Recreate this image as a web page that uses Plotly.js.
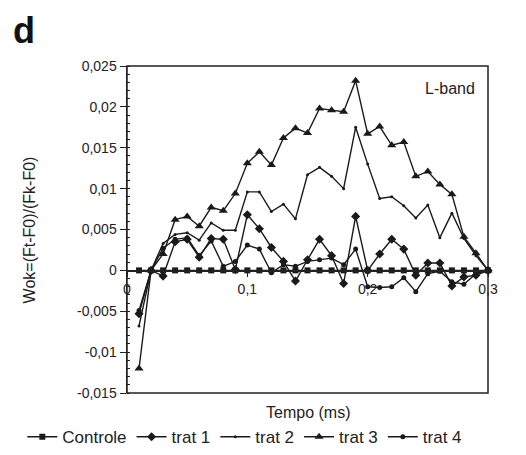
<!DOCTYPE html>
<html>
<head>
<meta charset="utf-8">
<script src="https://cdn.plot.ly/plotly-3.0.1.min.js"></script>
<style>html,body{margin:0;padding:0;background:#fff;}#chart{width:526px;height:455px;}</style>
</head>
<body>
<div id="chart"></div>
<script>
// time points (ms)
const tempo = [0.01,0.02,0.03,0.04,0.05,0.06,0.07,0.08,0.09,0.10,
               0.11,0.12,0.13,0.14,0.15,0.16,0.17,0.18,0.19,0.20,
               0.21,0.22,0.23,0.24,0.25,0.26,0.27,0.28,0.29,0.30];
const controle = [0,0,0,0,0,0,0,0,0,0, 0,0,0,0,0,0,0,0,0,0, 0,0,0,0,0,0,0,0,0,0];
const trat1 = [-0.0053,0,-0.0007,0.0035,0.0038,0.0016,0.0039,0.0038,0.0001,0.0068,
               0.0051,0.0028,0.0011,-0.0013,0.0013,0.0038,0.0018,-0.0016,0.0066,0.0,
               0.0020,0.0038,0.0026,-0.0006,0.0009,0.0009,-0.0019,-0.0008,-0.0006,0];
const trat2 = [-0.0068,0,0.0033,0.0044,0.0046,0.0037,0.0058,0.0049,0.0049,0.0096,
               0.0096,0.0072,0.0081,0.0063,0.0117,0.0126,0.0115,0.0100,0.0175,0.0130,
               0.0088,0.0090,0.0079,0.0064,0.0080,0.0040,0.0070,0.0039,0.0018,0];
const trat3 = [-0.0120,0,0.0020,0.0062,0.0066,0.0054,0.0077,0.0073,0.0094,0.0131,
               0.0145,0.0129,0.0162,0.0174,0.0168,0.0198,0.0196,0.0194,0.0232,0.0167,
               0.0176,0.0153,0.0157,0.0115,0.0121,0.0105,0.0093,0.0041,0.0021,0];
const trat4 = [-0.0049,0,0.0027,0.0038,0.0040,0.0018,0.0036,0.0005,0.0011,0.0031,
               0.0026,-0.0003,0.0007,0.0005,0.0011,0.0013,0.0015,0.0007,0.0026,-0.0020,
               -0.0021,-0.0020,-0.0009,-0.0026,-0.0004,-0.0001,-0.0014,-0.0017,-0.0004,0];
const seriesNames = ['Controle','trat 1','trat 2','trat 3','trat 4'];
const yTickVals = [-0.015,-0.01,-0.005,0,0.005,0.01,0.015,0.02,0.025];
const yTickText = ['-0,015','-0,01','-0,005','0','0,005','0,01','0,015','0,02','0,025'];
const xTickVals = [0,0.1,0.2,0.3];
const xTickText = ['0','0,1','0,2','0,3'];

const col = '#1a1a1a';
const data = [controle,trat1,trat2,trat3,trat4];
const symbols = ['square','diamond','circle','triangle-up','circle'];
const sizes = [6,7,3,8,5];
const traces = data.map((d,i)=>({
  x: tempo, y: d, name: seriesNames[i], type:'scatter', mode:'lines+markers',
  line:{color:col,width:1.4}, marker:{symbol:symbols[i],size:sizes[i],color:col},
  cliponaxis:false
}));

const font = {family:'"Liberation Sans", Arial, sans-serif', color:'#222'};
const layout = {
  width:526, height:455,
  margin:{l:127,r:38,t:66,b:62,autoexpand:false},
  paper_bgcolor:'#fff', plot_bgcolor:'#fff',
  font:Object.assign({size:14},font),
  showlegend:true,
  legend:{orientation:'h', x:-0.29, xanchor:'left', y:-0.135, yanchor:'middle',
          font:Object.assign({size:17},font), itemwidth:30, tracegroupgap:0},
  xaxis:{range:[0,0.3], anchor:'free', position:0.375, showgrid:false, zeroline:false,
         showline:true, linecolor:'#222', linewidth:1.5,
         tickvals:xTickVals, ticktext:xTickText, ticks:'outside', ticklen:5, tickcolor:'#222',
         tickfont:Object.assign({size:14},font)},
  yaxis:{range:[-0.015,0.025], showgrid:false, zeroline:false,
         showline:true, linecolor:'#222', linewidth:1.5,
         tickvals:yTickVals, ticktext:yTickText, ticks:'outside', ticklen:6, tickcolor:'#222',
         minor:{dtick:0.001, ticks:'inside', ticklen:3, tickcolor:'#222'},
         tickfont:Object.assign({size:14},font)},
  shapes:[{type:'rect', xref:'paper', yref:'paper', x0:0, x1:1, y0:0, y1:1,
           line:{color:'#222', width:1.5}}],
  annotations:[
    {text:'<b>d</b>', xref:'paper', yref:'paper', x:-0.32, y:1.11, xanchor:'left', yanchor:'middle',
     showarrow:false, font:{family:'"Liberation Sans", Arial, sans-serif', size:36, color:'#111'}},
    {text:'L-band', xref:'paper', yref:'paper', x:0.97, y:0.93, xanchor:'right', yanchor:'middle',
     showarrow:false, font:Object.assign({size:16},font)},
    {text:'Tempo (ms)', xref:'paper', yref:'paper', x:0.5, y:-0.06, xanchor:'center', yanchor:'middle',
     showarrow:false, font:Object.assign({size:16},font)},
    {text:'Wok=(Ft-F0)/(Fk-F0)', xref:'paper', yref:'paper', x:-0.269, y:0.5, xanchor:'center', yanchor:'middle',
     textangle:-90, showarrow:false, font:Object.assign({size:16},font)}
  ]
};
Plotly.newPlot('chart', traces, layout, {staticPlot:true, displayModeBar:false});
</script>
</body>
</html>
